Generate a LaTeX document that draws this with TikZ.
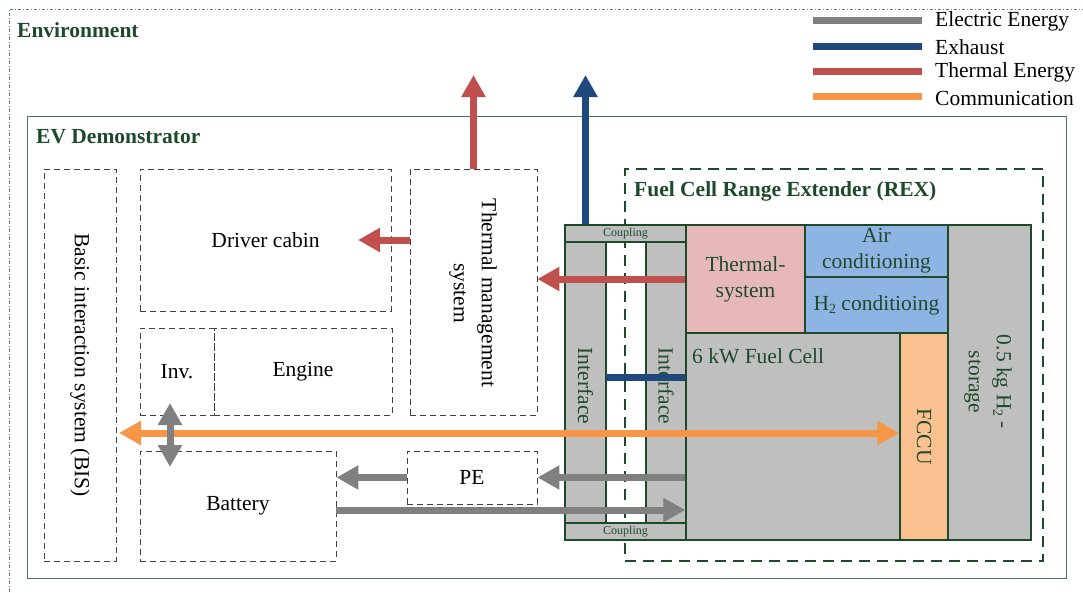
\documentclass[tikz,border=0pt]{standalone}
\usepackage{fontspec}
\setmainfont{Liberation Serif}
\usetikzlibrary{arrows.meta}
\definecolor{dkgreen}{HTML}{1E4A2C}
\definecolor{evline}{HTML}{4F7360}
\definecolor{envline}{HTML}{5F7F6F}
\definecolor{boxgray}{HTML}{BFBFBF}
\definecolor{pinkfill}{HTML}{E6B9B8}
\definecolor{bluefill}{HTML}{8EB4E3}
\definecolor{orangefill}{HTML}{FAC090}
\definecolor{arrred}{HTML}{C0504D}
\definecolor{arrblue}{HTML}{1F497D}
\definecolor{arrorange}{HTML}{F79646}
\definecolor{arrgray}{HTML}{808080}
\definecolor{dashgray}{HTML}{404040}
\newcommand\mainfs{\fontsize{21.5}{26}\selectfont}
\newcommand\rotfs{\fontsize{21.5}{28}\selectfont}
\newcommand\sbt[1]{\raisebox{-0.35ex}{\fontsize{14}{14}\selectfont #1}}
\tikzset{
  evbox/.style={draw=dashgray, dash pattern=on 6pt off 4pt, line width=0.9pt,
    inner sep=0pt, font=\mainfs, text=black, align=center},
  rexblock/.style={draw=dkgreen, line width=1.5pt, inner sep=0pt,
    font=\mainfs, text=dkgreen, align=center},
  titletext/.style={font=\fontsize{21.5}{26}\selectfont\bfseries, text=dkgreen, anchor=west, inner sep=0pt},
  legtext/.style={font=\mainfs, anchor=west, inner sep=0pt},
  headtip/.style={-{Triangle[length=22pt,width=23pt]}},
  dheadtip/.style={{Triangle[length=22pt,width=23pt]}-{Triangle[length=22pt,width=23pt]}},
  redarr/.style={headtip, draw=arrred, fill=arrred, line width=7pt},
  bluearr/.style={headtip, draw=arrblue, fill=arrblue, line width=7pt},
  grayarr/.style={headtip, draw=arrgray, fill=arrgray, line width=7pt},
  graydarr/.style={dheadtip, draw=arrgray, fill=arrgray, line width=7pt},
  orangedarr/.style={dheadtip, draw=arrorange, fill=arrorange, line width=7pt},
  legline/.style={line width=7pt},
}
\begin{document}
\begin{tikzpicture}[x=1pt,y=-1pt]
\useasboundingbox (0,0) rectangle (1083,592);

% Environment frame (dash-dot)
\draw[envline, line width=0.7pt, dash pattern=on 3pt off 2pt on 1pt off 2pt]
  (9,592) -- (9,9) -- (1083,9);
\node[titletext] (envtitle) at (17,30) {Environment};

% Legend
\draw[legline, arrgray]   (813,20.5) -- (922,20.5);
\draw[legline, arrblue]   (813,46)   -- (922,46);
\draw[legline, arrred]    (813,71)   -- (922,71);
\draw[legline, arrorange] (813,96)   -- (922,96);
\node[legtext] (leg1) at (935,21) {Electric Energy};
\node[legtext] (leg2) at (935,47) {Exhaust};
\node[legtext] (leg3) at (935,72) {Thermal Energy};
\node[legtext] (leg4) at (935,98) {Communication};

% EV Demonstrator frame
\node[draw=evline, line width=1pt, minimum width=1039pt, minimum height=462pt, inner sep=0pt]
  (ev) at (546.5,347) {};
\node[titletext] (evtitle) at (36,137) {EV Demonstrator};

% REX dashed frame
\node[draw=dkgreen, line width=1.6pt, dash pattern=on 11pt off 7pt,
  minimum width=418pt, minimum height=392pt, inner sep=0pt] (rex) at (834,365) {};
\node[titletext] (rextitle) at (634,191) {Fuel Cell Range Extender (REX)};

% REX blocks
\node[rexblock, fill=boxgray, minimum width=121pt, minimum height=17pt, font=\fontsize{12}{12}\selectfont]
  (ctop) at (625.5,233.5) {Coupling};
\node[rexblock, fill=boxgray, minimum width=121pt, minimum height=17pt, font=\fontsize{12}{12}\selectfont]
  (cbot) at (625.5,531.5) {Coupling};
\node[rexblock, fill=boxgray, minimum width=41pt, minimum height=281pt] (intf1) at (585.5,382.5) {};
\node[rexblock, fill=boxgray, minimum width=40pt, minimum height=281pt] (intf2) at (666,382.5) {};
\node[rotate=-90, font=\mainfs, text=dkgreen, inner sep=0pt] (intf1lbl) at (585.5,386) {Interface};
\node[rotate=-90, font=\mainfs, text=dkgreen, inner sep=0pt] (intf2lbl) at (666,386) {Interface};
\node[rexblock, fill=pinkfill, minimum width=119pt, minimum height=108pt] (tsys) at (745.5,279) {Thermal-\\system};
\node[rexblock, fill=bluefill, minimum width=143pt, minimum height=52pt] (air) at (876.5,251) {Air\\conditioning};
\node[rexblock, fill=bluefill, minimum width=143pt, minimum height=56pt] (htwo) at (876.5,305) {H\sbt{2} conditioing};
\node[rexblock, fill=boxgray, minimum width=214pt, minimum height=207pt] (fc) at (793,436.5) {};
\node[font=\mainfs, text=dkgreen, anchor=west, inner sep=0pt] (fclbl) at (692,356) {6 kW Fuel Cell};
\node[rexblock, fill=orangefill, minimum width=48pt, minimum height=207pt] (fccu) at (924,436.5) {};
\node[rotate=-90, font=\mainfs, text=dkgreen, inner sep=0pt] (fcculbl) at (fccu.center) {FCCU};
\node[rexblock, fill=boxgray, minimum width=83pt, minimum height=315pt] (stor) at (989.5,382.5) {};
\node[rotate=-90, font=\rotfs, text=dkgreen, align=center, inner sep=0pt] (storlbl) at (988,382) {0.5 kg H\sbt{2} -\\storage};

% EV components
\node[evbox, minimum width=72pt, minimum height=392pt] (bis) at (80,365) {};
\node[rotate=-90, font=\mainfs, inner sep=0pt] (bislbl) at (80,365) {Basic interaction system (BIS)};
\node[evbox, minimum width=251pt, minimum height=142pt] (cabin) at (265.5,240) {Driver cabin};
\node[evbox, minimum width=74pt, minimum height=87pt] (inv) at (177,371.5) {Inv.};
\node[evbox, minimum width=178pt, minimum height=87pt] (engine) at (303,371.5) {Engine};
\node[evbox, minimum width=127pt, minimum height=246pt] (tms) at (473.5,292) {};
\node[rotate=-90, font=\rotfs, align=center, inner sep=0pt] (tmslbl) at (473,293) {Thermal management\\system};
\node[evbox, minimum width=196pt, minimum height=110pt] (battery) at (238,506) {Battery};
\node[evbox, minimum width=130pt, minimum height=53pt] (pe) at (472,477.5) {PE};

% free ends
\coordinate (redtop) at (473.5,75);
\coordinate (bluetop) at (585.5,75);
\coordinate (cabintip) at (358,240);
\coordinate (exh) at (606,377);
\coordinate (commL) at (119,433);
\coordinate (vtop) at (170,403);
\coordinate (vbot) at (170,467);
\coordinate (elow) at (336,510);

% connectors
\draw[redarr] (tms.north) -- (redtop);
\draw[bluearr] (intf1.center |- ctop.north) -- (bluetop);
\draw[redarr] (tms.west |- cabin.center) -- (cabintip);
\draw[redarr] (tsys.west) -- (tms.east |- tsys.west);
\draw[arrblue, line width=7pt] (exh) -- (exh -| fc.west);
\draw[grayarr] (pe.west) -- (battery.east |- pe.west);
\draw[grayarr] (fc.west |- pe.east) -- (pe.east);
\draw[grayarr] (elow) -- (elow -| fc.west);
\draw[orangedarr] (commL) -- (commL -| fccu.west);
\draw[graydarr] (vtop) -- (vbot);
\end{tikzpicture}
\end{document}
